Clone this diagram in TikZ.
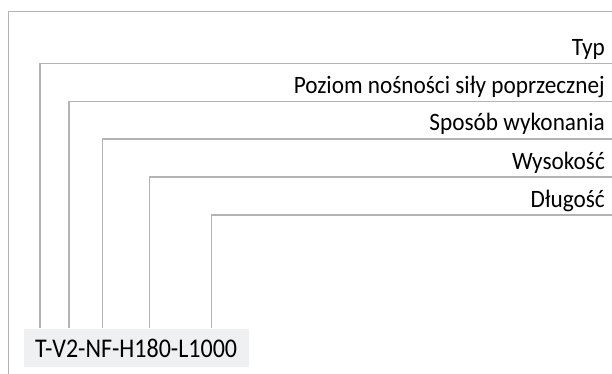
\documentclass[tikz,border=0pt]{standalone}
\usepackage{fontspec}
\setmainfont{Carlito}
\newfontfamily\codefont[FakeStretch=0.89]{Carlito}
\newfontfamily\lblfont[FakeStretch=0.93]{Carlito}
\definecolor{linegray}{HTML}{B4B4B4}
\definecolor{boxgray}{HTML}{EFF0F2}
\begin{document}
\begin{tikzpicture}[x=1pt,y=-1pt,
  conn/.style={draw=linegray,line width=1.3pt},
  lbl/.style={anchor=base east,inner sep=0pt,font=\lblfont\fontsize{25}{25}\selectfont},
  codebox/.style={fill=boxgray,minimum width=225pt,minimum height=38pt,inner sep=0pt,anchor=north west}]
\useasboundingbox (0,0) rectangle (612,374);
\node[codebox] (code) at (24,329) {};
\node[anchor=base west,inner sep=0pt,font=\codefont\fontsize{27}{27}\selectfont] (codetxt) at (35,357.5) {T-V2-NF-H180-L1000};
% frame
\coordinate (fb) at (8.3,374);
\coordinate (ft) at (8.3,11.7);
\coordinate (fr) at (612,11.7);
\draw[conn] (fb) -- (ft) -- (fr);
% labels and connectors
\foreach \n/\x/\y/\t in {a/40/63.3/Typ, b/69/101.5/Poziom nośności siły poprzecznej, c/102.7/139/Sposób wykonania, d/149.3/177/Wysokość, e/211.7/215/Długość}{
  \node[lbl] (l\n) at (605,\y-8) {\t};
  \coordinate (s\n) at (\x,328);
  \coordinate (k\n) at (\x,\y);
  \coordinate (r\n) at (612,\y);
  \draw[conn] (s\n) -- (k\n) -- (r\n);
}
\end{tikzpicture}
\end{document}
